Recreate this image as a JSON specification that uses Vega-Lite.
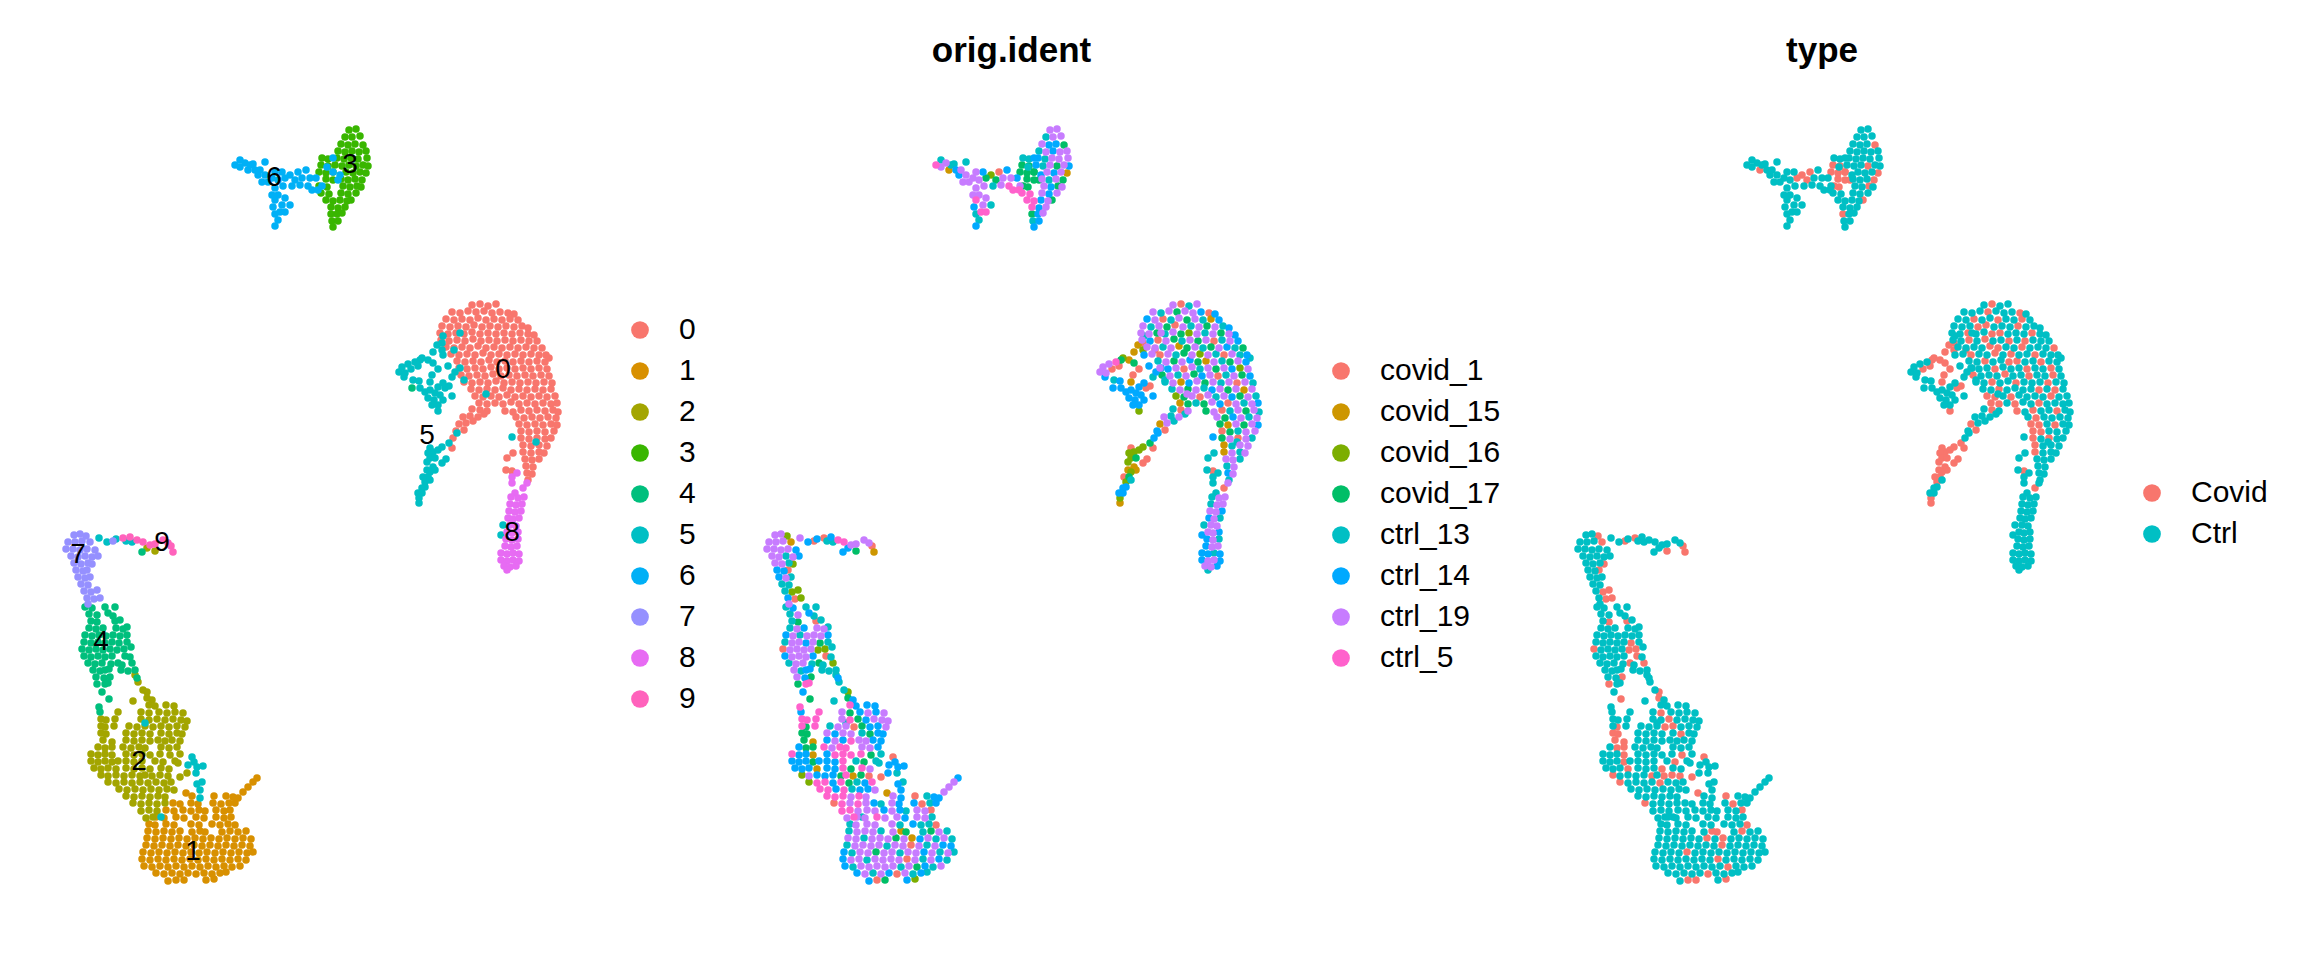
{"$schema":"https://vega.github.io/schema/vega-lite/v6.json","padding":{"top":34,"left":0,"right":0,"bottom":0},"bounds":"flush","spacing":0,"background":"white","resolve":{"scale":{"color":"independent"},"legend":{"color":"independent"}},"config":{"view":{"stroke":null},"font":"Liberation Sans","title":{"font":"Liberation Sans","fontSize":35,"fontWeight":"bold","color":"black","offset":11},"legend":{"labelFont":"Liberation Sans","labelFontSize":30,"labelColor":"black","symbolSize":314,"symbolType":"circle","symbolStrokeWidth":0,"symbolOpacity":1,"labelOffset":24,"rowPadding":11,"padding":0,"title":null}},"datasets":{"samples":[{"o":1,"sample":"covid_1","type":"Covid"},{"o":2,"sample":"covid_15","type":"Covid"},{"o":3,"sample":"covid_16","type":"Covid"},{"o":4,"sample":"covid_17","type":"Covid"},{"o":5,"sample":"ctrl_13","type":"Ctrl"},{"o":6,"sample":"ctrl_14","type":"Ctrl"},{"o":7,"sample":"ctrl_19","type":"Ctrl"},{"o":8,"sample":"ctrl_5","type":"Ctrl"}],"labels":[{"x":503,"y":370,"label":"0"},{"x":193,"y":852,"label":"1"},{"x":139,"y":762,"label":"2"},{"x":350,"y":165,"label":"3"},{"x":101,"y":642,"label":"4"},{"x":427,"y":436,"label":"5"},{"x":274,"y":178,"label":"6"},{"x":78,"y":555,"label":"7"},{"x":512,"y":533,"label":"8"},{"x":162,"y":543,"label":"9"}],"cells":[
{"x":472,"y":305,"c":0,"o":7},{"x":480,"y":304,"c":0,"o":1},{"x":488,"y":306,"c":0,"o":5},{"x":496,"y":304,"c":0,"o":7},
{"x":452,"y":312,"c":0,"o":7},{"x":460,"y":313,"c":0,"o":5},{"x":468,"y":311,"c":0,"o":7},{"x":476,"y":312,"c":0,"o":4},{"x":484,"y":311,"c":0,"o":7},{"x":492,"y":313,"c":0,"o":7},{"x":500,"y":312,"c":0,"o":6},{"x":508,"y":313,"c":0,"o":1},{"x":514,"y":314,"c":0,"o":6},
{"x":446,"y":319,"c":0,"o":6},{"x":454,"y":320,"c":0,"o":7},{"x":462,"y":319,"c":0,"o":1},{"x":470,"y":320,"c":0,"o":5},{"x":478,"y":318,"c":0,"o":7},{"x":486,"y":320,"c":0,"o":4},{"x":494,"y":319,"c":0,"o":7},{"x":502,"y":320,"c":0,"o":5},{"x":510,"y":319,"c":0,"o":2},{"x":518,"y":320,"c":0,"o":6},
{"x":442,"y":326,"c":0,"o":7},{"x":450,"y":327,"c":0,"o":5},{"x":458,"y":326,"c":0,"o":7},{"x":466,"y":327,"c":0,"o":4},{"x":474,"y":325,"c":0,"o":1},{"x":482,"y":327,"c":0,"o":7},{"x":490,"y":326,"c":0,"o":5},{"x":498,"y":327,"c":0,"o":7},{"x":506,"y":326,"c":0,"o":4},{"x":514,"y":327,"c":0,"o":7},{"x":522,"y":326,"c":0,"o":5},{"x":528,"y":328,"c":0,"o":6},
{"x":440,"y":333,"c":0,"o":7},{"x":448,"y":334,"c":0,"o":7},{"x":456,"y":333,"c":0,"o":4},{"x":464,"y":334,"c":0,"o":5},{"x":472,"y":332,"c":0,"o":7},{"x":480,"y":334,"c":0,"o":4},{"x":488,"y":333,"c":0,"o":3},{"x":496,"y":334,"c":0,"o":7},{"x":504,"y":333,"c":0,"o":5},{"x":512,"y":334,"c":0,"o":7},{"x":520,"y":333,"c":0,"o":4},{"x":528,"y":334,"c":0,"o":7},{"x":534,"y":335,"c":0,"o":6},
{"x":441,"y":340,"c":0,"o":7},{"x":449,"y":341,"c":0,"o":6},{"x":457,"y":340,"c":0,"o":1},{"x":465,"y":341,"c":0,"o":7},{"x":473,"y":339,"c":0,"o":4},{"x":481,"y":341,"c":0,"o":5},{"x":489,"y":340,"c":0,"o":7},{"x":497,"y":341,"c":0,"o":4},{"x":505,"y":340,"c":0,"o":7},{"x":513,"y":341,"c":0,"o":1},{"x":521,"y":340,"c":0,"o":5},{"x":529,"y":341,"c":0,"o":7},{"x":537,"y":341,"c":0,"o":6},
{"x":446,"y":347,"c":0,"o":7},{"x":454,"y":348,"c":0,"o":7},{"x":462,"y":347,"c":0,"o":5},{"x":470,"y":348,"c":0,"o":7},{"x":478,"y":346,"c":0,"o":2},{"x":486,"y":348,"c":0,"o":4},{"x":494,"y":347,"c":0,"o":7},{"x":502,"y":348,"c":0,"o":5},{"x":510,"y":347,"c":0,"o":4},{"x":518,"y":348,"c":0,"o":7},{"x":526,"y":347,"c":0,"o":6},{"x":534,"y":348,"c":0,"o":5},{"x":542,"y":348,"c":0,"o":4},
{"x":451,"y":354,"c":0,"o":7},{"x":459,"y":355,"c":0,"o":1},{"x":467,"y":354,"c":0,"o":7},{"x":475,"y":355,"c":0,"o":5},{"x":483,"y":353,"c":0,"o":4},{"x":491,"y":355,"c":0,"o":7},{"x":499,"y":354,"c":0,"o":3},{"x":507,"y":355,"c":0,"o":7},{"x":515,"y":354,"c":0,"o":5},{"x":523,"y":355,"c":0,"o":1},{"x":531,"y":354,"c":0,"o":7},{"x":539,"y":355,"c":0,"o":5},{"x":546,"y":355,"c":0,"o":6},
{"x":457,"y":361,"c":0,"o":5},{"x":465,"y":362,"c":0,"o":7},{"x":473,"y":361,"c":0,"o":4},{"x":481,"y":362,"c":0,"o":7},{"x":489,"y":360,"c":0,"o":6},{"x":497,"y":362,"c":0,"o":4},{"x":505,"y":361,"c":0,"o":2},{"x":513,"y":362,"c":0,"o":7},{"x":521,"y":361,"c":0,"o":5},{"x":529,"y":362,"c":0,"o":4},{"x":537,"y":361,"c":0,"o":7},{"x":545,"y":362,"c":0,"o":6},{"x":549,"y":358,"c":0,"o":5},
{"x":459,"y":368,"c":0,"o":7},{"x":467,"y":369,"c":0,"o":6},{"x":475,"y":368,"c":0,"o":7},{"x":483,"y":369,"c":0,"o":1},{"x":491,"y":367,"c":0,"o":7},{"x":499,"y":369,"c":0,"o":5},{"x":507,"y":368,"c":0,"o":7},{"x":515,"y":369,"c":0,"o":4},{"x":523,"y":368,"c":0,"o":7},{"x":531,"y":369,"c":0,"o":6},{"x":539,"y":368,"c":0,"o":3},{"x":547,"y":369,"c":0,"o":7},
{"x":461,"y":375,"c":0,"o":4},{"x":469,"y":376,"c":0,"o":7},{"x":477,"y":375,"c":0,"o":5},{"x":485,"y":376,"c":0,"o":7},{"x":493,"y":374,"c":0,"o":4},{"x":501,"y":376,"c":0,"o":6},{"x":509,"y":375,"c":0,"o":7},{"x":517,"y":376,"c":0,"o":1},{"x":525,"y":375,"c":0,"o":5},{"x":533,"y":376,"c":0,"o":7},{"x":541,"y":375,"c":0,"o":4},{"x":549,"y":376,"c":0,"o":6},
{"x":464,"y":382,"c":0,"o":5},{"x":472,"y":383,"c":0,"o":7},{"x":480,"y":382,"c":0,"o":2},{"x":488,"y":383,"c":0,"o":6},{"x":496,"y":381,"c":0,"o":7},{"x":504,"y":383,"c":0,"o":4},{"x":512,"y":382,"c":0,"o":7},{"x":520,"y":383,"c":0,"o":5},{"x":528,"y":382,"c":0,"o":7},{"x":536,"y":383,"c":0,"o":1},{"x":544,"y":382,"c":0,"o":7},{"x":552,"y":383,"c":0,"o":5},
{"x":471,"y":389,"c":0,"o":5},{"x":479,"y":390,"c":0,"o":7},{"x":487,"y":389,"c":0,"o":4},{"x":495,"y":390,"c":0,"o":7},{"x":503,"y":388,"c":0,"o":5},{"x":511,"y":390,"c":0,"o":6},{"x":519,"y":389,"c":0,"o":7},{"x":527,"y":390,"c":0,"o":4},{"x":535,"y":389,"c":0,"o":7},{"x":543,"y":390,"c":0,"o":2},{"x":551,"y":389,"c":0,"o":7},
{"x":475,"y":396,"c":0,"o":3},{"x":483,"y":397,"c":0,"o":4},{"x":491,"y":396,"c":0,"o":7},{"x":499,"y":397,"c":0,"o":1},{"x":507,"y":395,"c":0,"o":7},{"x":515,"y":397,"c":0,"o":5},{"x":523,"y":396,"c":0,"o":7},{"x":531,"y":397,"c":0,"o":6},{"x":539,"y":396,"c":0,"o":4},{"x":547,"y":397,"c":0,"o":7},{"x":555,"y":396,"c":0,"o":5},
{"x":479,"y":403,"c":0,"o":2},{"x":487,"y":404,"c":0,"o":4},{"x":495,"y":403,"c":0,"o":5},{"x":503,"y":404,"c":0,"o":4},{"x":511,"y":402,"c":0,"o":7},{"x":519,"y":404,"c":0,"o":6},{"x":527,"y":403,"c":0,"o":1},{"x":535,"y":404,"c":0,"o":7},{"x":543,"y":403,"c":0,"o":5},{"x":551,"y":404,"c":0,"o":7},{"x":557,"y":403,"c":0,"o":6},
{"x":472,"y":409,"c":0,"o":5},{"x":480,"y":410,"c":0,"o":1},{"x":487,"y":411,"c":0,"o":7},{"x":505,"y":411,"c":0,"o":4},{"x":513,"y":412,"c":0,"o":7},{"x":521,"y":410,"c":0,"o":1},{"x":529,"y":411,"c":0,"o":5},{"x":537,"y":410,"c":0,"o":7},{"x":545,"y":411,"c":0,"o":4},{"x":553,"y":410,"c":0,"o":7},{"x":558,"y":412,"c":0,"o":5},
{"x":463,"y":417,"c":0,"o":7},{"x":470,"y":416,"c":0,"o":5},{"x":478,"y":417,"c":0,"o":7},{"x":484,"y":414,"c":0,"o":5},{"x":516,"y":417,"c":0,"o":7},{"x":524,"y":418,"c":0,"o":4},{"x":532,"y":417,"c":0,"o":6},{"x":540,"y":418,"c":0,"o":7},{"x":548,"y":417,"c":0,"o":5},{"x":556,"y":418,"c":0,"o":7},
{"x":459,"y":424,"c":0,"o":2},{"x":466,"y":423,"c":0,"o":7},{"x":473,"y":421,"c":0,"o":5},{"x":519,"y":424,"c":0,"o":4},{"x":527,"y":425,"c":0,"o":2},{"x":535,"y":424,"c":0,"o":7},{"x":543,"y":425,"c":0,"o":4},{"x":551,"y":424,"c":0,"o":7},{"x":557,"y":425,"c":0,"o":6},
{"x":456,"y":431,"c":0,"o":6},{"x":464,"y":430,"c":0,"o":1},{"x":521,"y":431,"c":0,"o":1},{"x":529,"y":432,"c":0,"o":4},{"x":537,"y":431,"c":0,"o":5},{"x":545,"y":432,"c":0,"o":7},{"x":554,"y":431,"c":0,"o":7},
{"x":453,"y":438,"c":0,"o":6},{"x":521,"y":438,"c":0,"o":4},{"x":529,"y":439,"c":0,"o":7},{"x":537,"y":438,"c":0,"o":1},{"x":545,"y":439,"c":0,"o":7},{"x":551,"y":438,"c":0,"o":5},
{"x":452,"y":448,"c":0,"o":1},{"x":523,"y":445,"c":0,"o":2},{"x":531,"y":446,"c":0,"o":5},{"x":539,"y":445,"c":0,"o":7},{"x":547,"y":446,"c":0,"o":7},
{"x":523,"y":452,"c":0,"o":2},{"x":531,"y":453,"c":0,"o":7},{"x":539,"y":452,"c":0,"o":5},{"x":544,"y":453,"c":0,"o":7},
{"x":525,"y":459,"c":0,"o":7},{"x":532,"y":460,"c":0,"o":7},{"x":539,"y":459,"c":0,"o":5},{"x":526,"y":466,"c":0,"o":5},{"x":533,"y":467,"c":0,"o":7},{"x":527,"y":473,"c":0,"o":6},{"x":532,"y":474,"c":0,"o":7},{"x":528,"y":480,"c":0,"o":5},
{"x":507,"y":458,"c":0,"o":5},{"x":513,"y":453,"c":0,"o":5},{"x":506,"y":470,"c":0,"o":5},{"x":512,"y":471,"c":0,"o":1},
{"x":176,"y":880,"c":1,"o":1},{"x":168,"y":881,"c":1,"o":6},{"x":184,"y":880,"c":1,"o":4},{"x":206,"y":880,"c":1,"o":6},{"x":214,"y":879,"c":1,"o":3},
{"x":156,"y":873,"c":1,"o":6},{"x":164,"y":874,"c":1,"o":7},{"x":172,"y":873,"c":1,"o":5},{"x":180,"y":874,"c":1,"o":7},{"x":188,"y":873,"c":1,"o":6},{"x":196,"y":874,"c":1,"o":1},{"x":204,"y":873,"c":1,"o":7},{"x":212,"y":874,"c":1,"o":5},{"x":220,"y":873,"c":1,"o":6},{"x":226,"y":872,"c":1,"o":5},
{"x":144,"y":866,"c":1,"o":6},{"x":152,"y":867,"c":1,"o":5},{"x":160,"y":866,"c":1,"o":7},{"x":168,"y":867,"c":1,"o":7},{"x":176,"y":866,"c":1,"o":7},{"x":184,"y":867,"c":1,"o":7},{"x":192,"y":866,"c":1,"o":7},{"x":200,"y":867,"c":1,"o":5},{"x":208,"y":866,"c":1,"o":7},{"x":216,"y":867,"c":1,"o":4},{"x":224,"y":866,"c":1,"o":6},{"x":232,"y":867,"c":1,"o":5},{"x":240,"y":866,"c":1,"o":7},
{"x":142,"y":859,"c":1,"o":6},{"x":150,"y":860,"c":1,"o":7},{"x":158,"y":859,"c":1,"o":7},{"x":166,"y":860,"c":1,"o":5},{"x":174,"y":859,"c":1,"o":7},{"x":182,"y":860,"c":1,"o":7},{"x":190,"y":859,"c":1,"o":7},{"x":198,"y":860,"c":1,"o":7},{"x":206,"y":859,"c":1,"o":1},{"x":214,"y":860,"c":1,"o":7},{"x":222,"y":859,"c":1,"o":5},{"x":230,"y":860,"c":1,"o":7},{"x":238,"y":859,"c":1,"o":6},{"x":246,"y":860,"c":1,"o":5},
{"x":143,"y":852,"c":1,"o":6},{"x":151,"y":853,"c":1,"o":5},{"x":159,"y":852,"c":1,"o":7},{"x":167,"y":853,"c":1,"o":7},{"x":175,"y":852,"c":1,"o":4},{"x":183,"y":853,"c":1,"o":7},{"x":191,"y":852,"c":1,"o":7},{"x":199,"y":853,"c":1,"o":5},{"x":207,"y":852,"c":1,"o":7},{"x":215,"y":853,"c":1,"o":7},{"x":223,"y":852,"c":1,"o":6},{"x":231,"y":853,"c":1,"o":7},{"x":239,"y":852,"c":1,"o":5},{"x":247,"y":853,"c":1,"o":7},{"x":253,"y":852,"c":1,"o":5},
{"x":146,"y":845,"c":1,"o":5},{"x":154,"y":846,"c":1,"o":7},{"x":162,"y":845,"c":1,"o":7},{"x":170,"y":846,"c":1,"o":7},{"x":178,"y":845,"c":1,"o":7},{"x":186,"y":846,"c":1,"o":5},{"x":194,"y":845,"c":1,"o":7},{"x":202,"y":846,"c":1,"o":7},{"x":210,"y":845,"c":1,"o":1},{"x":218,"y":846,"c":1,"o":7},{"x":226,"y":845,"c":1,"o":5},{"x":234,"y":846,"c":1,"o":7},{"x":242,"y":845,"c":1,"o":6},{"x":250,"y":846,"c":1,"o":6},
{"x":147,"y":838,"c":1,"o":7},{"x":155,"y":839,"c":1,"o":7},{"x":163,"y":838,"c":1,"o":5},{"x":171,"y":839,"c":1,"o":7},{"x":179,"y":838,"c":1,"o":7},{"x":187,"y":839,"c":1,"o":7},{"x":195,"y":838,"c":1,"o":4},{"x":203,"y":839,"c":1,"o":7},{"x":211,"y":838,"c":1,"o":2},{"x":219,"y":839,"c":1,"o":6},{"x":227,"y":838,"c":1,"o":7},{"x":235,"y":839,"c":1,"o":5},{"x":243,"y":838,"c":1,"o":7},{"x":251,"y":839,"c":1,"o":5},
{"x":148,"y":831,"c":1,"o":5},{"x":156,"y":832,"c":1,"o":7},{"x":164,"y":831,"c":1,"o":7},{"x":172,"y":832,"c":1,"o":7},{"x":180,"y":831,"c":1,"o":5},{"x":192,"y":832,"c":1,"o":7},{"x":200,"y":831,"c":1,"o":2},{"x":205,"y":832,"c":1,"o":4},{"x":222,"y":832,"c":1,"o":5},{"x":230,"y":831,"c":1,"o":4},{"x":238,"y":832,"c":1,"o":7},{"x":246,"y":831,"c":1,"o":5},
{"x":149,"y":824,"c":1,"o":5},{"x":155,"y":825,"c":1,"o":7},{"x":166,"y":824,"c":1,"o":7},{"x":174,"y":825,"c":1,"o":7},{"x":191,"y":824,"c":1,"o":7},{"x":199,"y":825,"c":1,"o":5},{"x":212,"y":824,"c":1,"o":6},{"x":220,"y":825,"c":1,"o":5},{"x":228,"y":824,"c":1,"o":5},{"x":235,"y":825,"c":1,"o":1},
{"x":156,"y":817,"c":1,"o":7},{"x":164,"y":818,"c":1,"o":7},{"x":176,"y":817,"c":1,"o":8},{"x":184,"y":818,"c":1,"o":7},{"x":196,"y":817,"c":1,"o":7},{"x":204,"y":818,"c":1,"o":6},{"x":216,"y":817,"c":1,"o":7},{"x":224,"y":818,"c":1,"o":7},{"x":231,"y":817,"c":1,"o":5},
{"x":166,"y":810,"c":1,"o":7},{"x":174,"y":811,"c":1,"o":7},{"x":183,"y":810,"c":1,"o":6},{"x":191,"y":811,"c":1,"o":7},{"x":199,"y":810,"c":1,"o":6},{"x":205,"y":811,"c":1,"o":5},{"x":216,"y":810,"c":1,"o":7},{"x":224,"y":811,"c":1,"o":7},{"x":230,"y":810,"c":1,"o":1},
{"x":173,"y":803,"c":1,"o":6},{"x":180,"y":804,"c":1,"o":5},{"x":191,"y":803,"c":1,"o":7},{"x":198,"y":804,"c":1,"o":6},{"x":213,"y":803,"c":1,"o":6},{"x":221,"y":804,"c":1,"o":1},{"x":229,"y":803,"c":1,"o":5},{"x":235,"y":803,"c":1,"o":6},
{"x":192,"y":796,"c":1,"o":7},{"x":186,"y":793,"c":1,"o":2},{"x":214,"y":796,"c":1,"o":1},{"x":226,"y":796,"c":1,"o":5},{"x":233,"y":797,"c":1,"o":6},{"x":238,"y":798,"c":1,"o":6},{"x":243,"y":792,"c":1,"o":7},{"x":248,"y":787,"c":1,"o":7},{"x":253,"y":782,"c":1,"o":7},{"x":257,"y":778,"c":1,"o":6},
{"x":135,"y":675,"c":2,"o":5},{"x":138,"y":682,"c":2,"o":5},{"x":143,"y":690,"c":2,"o":5},{"x":147,"y":692,"c":2,"o":3},{"x":147,"y":698,"c":2,"o":4},{"x":152,"y":700,"c":2,"o":6},{"x":133,"y":701,"c":2,"o":5},{"x":118,"y":712,"c":2,"o":8},
{"x":149,"y":705,"c":2,"o":8},{"x":155,"y":706,"c":2,"o":6},{"x":166,"y":705,"c":2,"o":6},{"x":174,"y":706,"c":2,"o":6},
{"x":141,"y":712,"c":2,"o":7},{"x":149,"y":713,"c":2,"o":4},{"x":159,"y":712,"c":2,"o":6},{"x":167,"y":713,"c":2,"o":7},{"x":175,"y":712,"c":2,"o":6},{"x":183,"y":713,"c":2,"o":7},
{"x":101,"y":719,"c":2,"o":8},{"x":106,"y":720,"c":2,"o":8},{"x":115,"y":719,"c":2,"o":8},{"x":141,"y":719,"c":2,"o":7},{"x":149,"y":720,"c":2,"o":8},{"x":157,"y":719,"c":2,"o":4},{"x":165,"y":720,"c":2,"o":6},{"x":173,"y":719,"c":2,"o":7},{"x":181,"y":720,"c":2,"o":7},{"x":187,"y":721,"c":2,"o":7},
{"x":101,"y":726,"c":2,"o":8},{"x":105,"y":727,"c":2,"o":4},{"x":114,"y":726,"c":2,"o":8},{"x":129,"y":726,"c":2,"o":5},{"x":137,"y":727,"c":2,"o":7},{"x":145,"y":726,"c":2,"o":7},{"x":153,"y":727,"c":2,"o":1},{"x":161,"y":726,"c":2,"o":4},{"x":169,"y":727,"c":2,"o":6},{"x":177,"y":726,"c":2,"o":6},{"x":185,"y":727,"c":2,"o":7},
{"x":101,"y":733,"c":2,"o":4},{"x":106,"y":734,"c":2,"o":4},{"x":126,"y":733,"c":2,"o":7},{"x":134,"y":734,"c":2,"o":6},{"x":142,"y":733,"c":2,"o":7},{"x":150,"y":734,"c":2,"o":7},{"x":161,"y":733,"c":2,"o":5},{"x":169,"y":734,"c":2,"o":4},{"x":177,"y":733,"c":2,"o":6},{"x":182,"y":734,"c":2,"o":6},
{"x":103,"y":740,"c":2,"o":4},{"x":112,"y":742,"c":2,"o":2},{"x":126,"y":740,"c":2,"o":6},{"x":134,"y":741,"c":2,"o":7},{"x":142,"y":740,"c":2,"o":6},{"x":150,"y":741,"c":2,"o":8},{"x":158,"y":740,"c":2,"o":7},{"x":165,"y":741,"c":2,"o":7},{"x":172,"y":740,"c":2,"o":6},{"x":180,"y":741,"c":2,"o":6},
{"x":98,"y":747,"c":2,"o":6},{"x":105,"y":748,"c":2,"o":4},{"x":112,"y":747,"c":2,"o":4},{"x":123,"y":747,"c":2,"o":8},{"x":131,"y":748,"c":2,"o":7},{"x":139,"y":747,"c":2,"o":8},{"x":145,"y":748,"c":2,"o":8},{"x":161,"y":747,"c":2,"o":7},{"x":169,"y":748,"c":2,"o":7},{"x":177,"y":747,"c":2,"o":6},
{"x":91,"y":754,"c":2,"o":8},{"x":98,"y":755,"c":2,"o":6},{"x":105,"y":754,"c":2,"o":6},{"x":112,"y":755,"c":2,"o":2},{"x":126,"y":754,"c":2,"o":6},{"x":134,"y":755,"c":2,"o":8},{"x":142,"y":754,"c":2,"o":8},{"x":150,"y":755,"c":2,"o":8},{"x":160,"y":754,"c":2,"o":8},{"x":170,"y":755,"c":2,"o":4},{"x":180,"y":754,"c":2,"o":5},
{"x":91,"y":761,"c":2,"o":6},{"x":98,"y":762,"c":2,"o":6},{"x":105,"y":761,"c":2,"o":6},{"x":112,"y":762,"c":2,"o":4},{"x":118,"y":761,"c":2,"o":6},{"x":126,"y":761,"c":2,"o":6},{"x":134,"y":762,"c":2,"o":6},{"x":142,"y":761,"c":2,"o":8},{"x":155,"y":761,"c":2,"o":5},{"x":163,"y":762,"c":2,"o":4},{"x":175,"y":761,"c":2,"o":5},
{"x":94,"y":768,"c":2,"o":6},{"x":101,"y":769,"c":2,"o":6},{"x":108,"y":768,"c":2,"o":6},{"x":116,"y":769,"c":2,"o":2},{"x":126,"y":768,"c":2,"o":6},{"x":134,"y":769,"c":2,"o":6},{"x":142,"y":768,"c":2,"o":8},{"x":150,"y":769,"c":2,"o":4},{"x":161,"y":768,"c":2,"o":8},{"x":169,"y":769,"c":2,"o":7},
{"x":101,"y":775,"c":2,"o":3},{"x":108,"y":776,"c":2,"o":7},{"x":116,"y":775,"c":2,"o":6},{"x":124,"y":776,"c":2,"o":6},{"x":132,"y":775,"c":2,"o":6},{"x":140,"y":776,"c":2,"o":4},{"x":145,"y":775,"c":2,"o":8},{"x":152,"y":776,"c":2,"o":2},{"x":160,"y":775,"c":2,"o":4},{"x":168,"y":776,"c":2,"o":1},
{"x":108,"y":782,"c":2,"o":3},{"x":116,"y":783,"c":2,"o":8},{"x":124,"y":782,"c":2,"o":8},{"x":132,"y":783,"c":2,"o":6},{"x":140,"y":782,"c":2,"o":8},{"x":148,"y":783,"c":2,"o":4},{"x":156,"y":782,"c":2,"o":5},{"x":164,"y":783,"c":2,"o":6},{"x":171,"y":782,"c":2,"o":8},
{"x":119,"y":789,"c":2,"o":8},{"x":127,"y":790,"c":2,"o":8},{"x":135,"y":789,"c":2,"o":6},{"x":143,"y":790,"c":2,"o":8},{"x":151,"y":789,"c":2,"o":5},{"x":159,"y":790,"c":2,"o":6},{"x":167,"y":789,"c":2,"o":6},{"x":174,"y":790,"c":2,"o":7},
{"x":126,"y":796,"c":2,"o":8},{"x":134,"y":797,"c":2,"o":8},{"x":142,"y":796,"c":2,"o":8},{"x":150,"y":797,"c":2,"o":7},{"x":158,"y":796,"c":2,"o":8},{"x":165,"y":797,"c":2,"o":7},
{"x":133,"y":803,"c":2,"o":1},{"x":141,"y":804,"c":2,"o":8},{"x":149,"y":803,"c":2,"o":7},{"x":157,"y":804,"c":2,"o":8},{"x":165,"y":803,"c":2,"o":7},{"x":141,"y":811,"c":2,"o":8},{"x":149,"y":810,"c":2,"o":8},{"x":157,"y":811,"c":2,"o":7},{"x":146,"y":818,"c":2,"o":7},{"x":153,"y":817,"c":2,"o":8},
{"x":180,"y":777,"c":2,"o":1},{"x":178,"y":763,"c":2,"o":5},{"x":187,"y":773,"c":2,"o":6},
{"x":192,"y":757,"c":5,"o":1},{"x":188,"y":765,"c":5,"o":6},{"x":194,"y":762,"c":5,"o":6},{"x":197,"y":767,"c":5,"o":6},{"x":203,"y":766,"c":5,"o":6},{"x":196,"y":773,"c":5,"o":5},{"x":197,"y":784,"c":5,"o":6},{"x":202,"y":782,"c":5,"o":5},{"x":200,"y":790,"c":5,"o":6},{"x":200,"y":798,"c":5,"o":6},{"x":161,"y":817,"c":5,"o":5},{"x":145,"y":723,"c":5,"o":5},
{"x":85,"y":607,"c":4,"o":5},{"x":92,"y":608,"c":4,"o":6},{"x":105,"y":607,"c":4,"o":5},{"x":115,"y":607,"c":4,"o":5},{"x":89,"y":614,"c":4,"o":5},{"x":97,"y":615,"c":4,"o":7},{"x":108,"y":613,"c":4,"o":6},{"x":113,"y":616,"c":4,"o":5},{"x":91,"y":621,"c":4,"o":5},{"x":97,"y":622,"c":4,"o":4},{"x":115,"y":621,"c":4,"o":1},{"x":120,"y":620,"c":4,"o":5},
{"x":89,"y":628,"c":4,"o":5},{"x":96,"y":629,"c":4,"o":7},{"x":103,"y":628,"c":4,"o":6},{"x":116,"y":628,"c":4,"o":7},{"x":123,"y":629,"c":4,"o":7},{"x":127,"y":627,"c":4,"o":5},
{"x":85,"y":635,"c":4,"o":6},{"x":92,"y":636,"c":4,"o":7},{"x":99,"y":635,"c":4,"o":5},{"x":106,"y":636,"c":4,"o":7},{"x":113,"y":635,"c":4,"o":7},{"x":120,"y":636,"c":4,"o":7},{"x":127,"y":635,"c":4,"o":6},
{"x":84,"y":642,"c":4,"o":5},{"x":91,"y":643,"c":4,"o":7},{"x":98,"y":642,"c":4,"o":7},{"x":105,"y":643,"c":4,"o":6},{"x":112,"y":642,"c":4,"o":7},{"x":119,"y":643,"c":4,"o":4},{"x":127,"y":642,"c":4,"o":5},
{"x":82,"y":649,"c":4,"o":1},{"x":89,"y":650,"c":4,"o":7},{"x":96,"y":649,"c":4,"o":7},{"x":103,"y":650,"c":4,"o":7},{"x":110,"y":649,"c":4,"o":7},{"x":117,"y":650,"c":4,"o":3},{"x":124,"y":649,"c":4,"o":3},{"x":131,"y":647,"c":4,"o":5},
{"x":84,"y":656,"c":4,"o":6},{"x":91,"y":657,"c":4,"o":7},{"x":98,"y":656,"c":4,"o":7},{"x":105,"y":657,"c":4,"o":7},{"x":112,"y":656,"c":4,"o":6},{"x":125,"y":656,"c":4,"o":1},{"x":130,"y":657,"c":4,"o":5},
{"x":88,"y":663,"c":4,"o":5},{"x":95,"y":664,"c":4,"o":7},{"x":102,"y":663,"c":4,"o":7},{"x":111,"y":664,"c":4,"o":5},{"x":118,"y":663,"c":4,"o":4},{"x":122,"y":665,"c":4,"o":5},{"x":132,"y":663,"c":4,"o":3},
{"x":93,"y":670,"c":4,"o":7},{"x":100,"y":671,"c":4,"o":5},{"x":105,"y":670,"c":4,"o":6},{"x":109,"y":669,"c":4,"o":6},{"x":121,"y":670,"c":4,"o":5},{"x":128,"y":671,"c":4,"o":5},{"x":135,"y":670,"c":4,"o":5},
{"x":96,"y":677,"c":4,"o":7},{"x":104,"y":678,"c":4,"o":6},{"x":110,"y":677,"c":4,"o":4},{"x":97,"y":684,"c":4,"o":4},{"x":105,"y":684,"c":4,"o":8},{"x":108,"y":683,"c":4,"o":8},{"x":137,"y":678,"c":4,"o":6},{"x":102,"y":692,"c":4,"o":6},{"x":109,"y":699,"c":4,"o":4},{"x":99,"y":707,"c":4,"o":8},{"x":100,"y":712,"c":4,"o":6},
{"x":74,"y":535,"c":7,"o":7},{"x":80,"y":534,"c":7,"o":7},{"x":86,"y":536,"c":7,"o":3},{"x":68,"y":542,"c":7,"o":7},{"x":75,"y":542,"c":7,"o":7},{"x":82,"y":541,"c":7,"o":7},{"x":90,"y":542,"c":7,"o":2},
{"x":66,"y":549,"c":7,"o":7},{"x":73,"y":549,"c":7,"o":7},{"x":80,"y":550,"c":7,"o":7},{"x":87,"y":549,"c":7,"o":7},{"x":95,"y":550,"c":7,"o":6},{"x":71,"y":556,"c":7,"o":7},{"x":78,"y":557,"c":7,"o":7},{"x":85,"y":556,"c":7,"o":5},{"x":92,"y":557,"c":7,"o":7},{"x":98,"y":556,"c":7,"o":6},
{"x":74,"y":563,"c":7,"o":7},{"x":81,"y":564,"c":7,"o":7},{"x":88,"y":563,"c":7,"o":5},{"x":92,"y":564,"c":7,"o":3},{"x":76,"y":570,"c":7,"o":6},{"x":83,"y":571,"c":7,"o":6},{"x":87,"y":570,"c":7,"o":1},{"x":78,"y":577,"c":7,"o":6},{"x":85,"y":578,"c":7,"o":7},{"x":90,"y":577,"c":7,"o":5},
{"x":81,"y":584,"c":7,"o":5},{"x":88,"y":585,"c":7,"o":5},{"x":84,"y":591,"c":7,"o":5},{"x":91,"y":592,"c":7,"o":3},{"x":97,"y":590,"c":7,"o":3},{"x":87,"y":598,"c":7,"o":6},{"x":94,"y":599,"c":7,"o":1},{"x":100,"y":598,"c":7,"o":3},{"x":88,"y":604,"c":7,"o":7},
{"x":99,"y":538,"c":5,"o":7},{"x":113,"y":541,"c":7,"o":1},{"x":107,"y":542,"c":5,"o":6},{"x":116,"y":539,"c":5,"o":6},{"x":126,"y":541,"c":5,"o":5},{"x":132,"y":542,"c":5,"o":5},
{"x":123,"y":538,"c":9,"o":1},{"x":130,"y":537,"c":9,"o":6},{"x":137,"y":540,"c":9,"o":8},{"x":143,"y":542,"c":9,"o":8},{"x":150,"y":545,"c":9,"o":7},{"x":155,"y":544,"c":9,"o":7},{"x":163,"y":540,"c":9,"o":7},{"x":168,"y":543,"c":9,"o":7},{"x":171,"y":546,"c":9,"o":1},{"x":173,"y":552,"c":9,"o":2},
{"x":147,"y":548,"c":2,"o":6},{"x":155,"y":551,"c":2,"o":4},{"x":142,"y":552,"c":4,"o":6},
{"x":349,"y":130,"c":3,"o":7},{"x":356,"y":129,"c":3,"o":7},{"x":345,"y":137,"c":3,"o":5},{"x":352,"y":137,"c":3,"o":7},{"x":360,"y":136,"c":3,"o":7},{"x":341,"y":144,"c":3,"o":7},{"x":348,"y":145,"c":3,"o":6},{"x":355,"y":144,"c":3,"o":6},{"x":363,"y":145,"c":3,"o":4},
{"x":338,"y":151,"c":3,"o":5},{"x":345,"y":152,"c":3,"o":7},{"x":352,"y":151,"c":3,"o":6},{"x":359,"y":152,"c":3,"o":7},{"x":366,"y":151,"c":3,"o":7},
{"x":322,"y":158,"c":3,"o":5},{"x":328,"y":159,"c":3,"o":5},{"x":337,"y":158,"c":3,"o":6},{"x":344,"y":159,"c":3,"o":5},{"x":351,"y":158,"c":3,"o":7},{"x":358,"y":159,"c":3,"o":7},{"x":367,"y":158,"c":3,"o":7},
{"x":321,"y":165,"c":3,"o":4},{"x":328,"y":166,"c":3,"o":4},{"x":335,"y":165,"c":3,"o":6},{"x":342,"y":166,"c":3,"o":5},{"x":349,"y":165,"c":3,"o":7},{"x":356,"y":166,"c":3,"o":4},{"x":363,"y":165,"c":3,"o":7},{"x":368,"y":166,"c":3,"o":6},
{"x":319,"y":172,"c":3,"o":4},{"x":326,"y":173,"c":3,"o":4},{"x":333,"y":172,"c":3,"o":4},{"x":346,"y":172,"c":3,"o":7},{"x":353,"y":173,"c":3,"o":6},{"x":360,"y":172,"c":3,"o":7},{"x":366,"y":173,"c":3,"o":2},
{"x":326,"y":179,"c":3,"o":4},{"x":333,"y":180,"c":3,"o":4},{"x":341,"y":179,"c":3,"o":7},{"x":348,"y":180,"c":3,"o":5},{"x":355,"y":179,"c":3,"o":7},{"x":362,"y":180,"c":3,"o":4},
{"x":319,"y":186,"c":3,"o":7},{"x":327,"y":187,"c":3,"o":4},{"x":343,"y":186,"c":3,"o":7},{"x":350,"y":187,"c":3,"o":6},{"x":357,"y":186,"c":3,"o":4},{"x":361,"y":187,"c":3,"o":7},
{"x":321,"y":193,"c":3,"o":8},{"x":329,"y":194,"c":3,"o":8},{"x":341,"y":193,"c":3,"o":7},{"x":348,"y":194,"c":3,"o":6},{"x":356,"y":193,"c":3,"o":7},
{"x":326,"y":200,"c":3,"o":8},{"x":333,"y":201,"c":3,"o":8},{"x":340,"y":200,"c":3,"o":6},{"x":347,"y":201,"c":3,"o":7},{"x":351,"y":200,"c":3,"o":4},
{"x":331,"y":207,"c":3,"o":8},{"x":338,"y":208,"c":3,"o":6},{"x":345,"y":207,"c":3,"o":7},{"x":331,"y":214,"c":3,"o":4},{"x":337,"y":214,"c":3,"o":6},{"x":342,"y":213,"c":3,"o":7},{"x":332,"y":221,"c":3,"o":5},{"x":338,"y":221,"c":3,"o":6},{"x":333,"y":227,"c":3,"o":6},
{"x":235,"y":165,"c":6,"o":8},{"x":240,"y":160,"c":6,"o":5},{"x":245,"y":163,"c":6,"o":7},{"x":240,"y":167,"c":6,"o":7},{"x":250,"y":165,"c":6,"o":5},{"x":248,"y":170,"c":6,"o":2},{"x":255,"y":170,"c":6,"o":6},{"x":253,"y":164,"c":6,"o":5},{"x":260,"y":170,"c":6,"o":7},{"x":258,"y":175,"c":6,"o":6},{"x":265,"y":175,"c":6,"o":7},{"x":265,"y":162,"c":6,"o":5},{"x":262,"y":182,"c":6,"o":7},{"x":268,"y":182,"c":6,"o":7},{"x":272,"y":178,"c":6,"o":7},{"x":275,"y":172,"c":6,"o":7},{"x":278,"y":180,"c":6,"o":7},{"x":275,"y":188,"c":6,"o":7},{"x":282,"y":172,"c":6,"o":6},{"x":285,"y":178,"c":6,"o":4},{"x":283,"y":186,"c":6,"o":7},{"x":290,"y":175,"c":6,"o":3},{"x":295,"y":180,"c":6,"o":4},{"x":292,"y":186,"c":6,"o":5},{"x":298,"y":172,"c":6,"o":1},{"x":302,"y":178,"c":6,"o":7},{"x":300,"y":185,"c":6,"o":7},{"x":306,"y":170,"c":6,"o":6},{"x":310,"y":178,"c":6,"o":7},{"x":308,"y":186,"c":6,"o":8},{"x":316,"y":178,"c":6,"o":6},{"x":318,"y":190,"c":6,"o":8},{"x":312,"y":190,"c":6,"o":8},{"x":322,"y":186,"c":6,"o":4},{"x":272,"y":195,"c":6,"o":7},{"x":278,"y":195,"c":6,"o":7},{"x":285,"y":198,"c":6,"o":7},{"x":275,"y":200,"c":6,"o":8},{"x":282,"y":205,"c":6,"o":7},{"x":290,"y":205,"c":6,"o":5},{"x":273,"y":207,"c":6,"o":6},{"x":280,"y":212,"c":6,"o":8},{"x":285,"y":212,"c":6,"o":8},{"x":275,"y":214,"c":6,"o":5},{"x":278,"y":220,"c":6,"o":5},{"x":275,"y":226,"c":6,"o":6},{"x":327,"y":167,"c":6,"o":5},{"x":333,"y":172,"c":6,"o":4},{"x":333,"y":158,"c":6,"o":6},{"x":340,"y":175,"c":6,"o":6},{"x":338,"y":180,"c":6,"o":4},
{"x":399,"y":372,"c":5,"o":7},{"x":402,"y":367,"c":5,"o":7},{"x":405,"y":373,"c":5,"o":7},{"x":408,"y":364,"c":5,"o":7},{"x":411,"y":369,"c":5,"o":1},{"x":415,"y":362,"c":5,"o":8},{"x":420,"y":360,"c":5,"o":4},{"x":404,"y":377,"c":5,"o":6},{"x":418,"y":366,"c":5,"o":1},{"x":422,"y":358,"c":5,"o":3},{"x":442,"y":343,"c":5,"o":1},{"x":437,"y":345,"c":5,"o":2},{"x":433,"y":352,"c":5,"o":2},{"x":442,"y":350,"c":5,"o":3},
{"x":420,"y":388,"c":5,"o":6},{"x":425,"y":392,"c":5,"o":6},{"x":430,"y":390,"c":5,"o":6},{"x":435,"y":393,"c":5,"o":6},{"x":428,"y":398,"c":5,"o":6},{"x":434,"y":400,"c":5,"o":6},{"x":440,"y":395,"c":5,"o":6},{"x":443,"y":400,"c":5,"o":6},{"x":438,"y":405,"c":5,"o":6},{"x":432,"y":405,"c":5,"o":6},{"x":438,"y":411,"c":5,"o":3},{"x":445,"y":388,"c":5,"o":1},{"x":452,"y":396,"c":5,"o":6},
{"x":413,"y":380,"c":5,"o":5},{"x":419,"y":381,"c":5,"o":6},{"x":432,"y":375,"c":5,"o":1},{"x":430,"y":382,"c":5,"o":2},{"x":438,"y":369,"c":5,"o":1},{"x":448,"y":366,"c":5,"o":6},{"x":428,"y":360,"c":5,"o":2},{"x":433,"y":363,"c":5,"o":4},{"x":443,"y":355,"c":5,"o":6},{"x":454,"y":350,"c":5,"o":1},{"x":460,"y":333,"c":5,"o":7},{"x":443,"y":336,"c":5,"o":5},{"x":460,"y":368,"c":5,"o":6},{"x":464,"y":380,"c":5,"o":5},{"x":455,"y":372,"c":5,"o":6},{"x":449,"y":386,"c":5,"o":1},{"x":452,"y":377,"c":5,"o":5},{"x":438,"y":387,"c":5,"o":6},{"x":443,"y":383,"c":5,"o":6},{"x":412,"y":388,"c":4,"o":6},{"x":486,"y":394,"c":5,"o":7},
{"x":430,"y":448,"c":5,"o":1},{"x":433,"y":452,"c":5,"o":3},{"x":428,"y":453,"c":5,"o":3},{"x":438,"y":450,"c":5,"o":3},{"x":430,"y":458,"c":5,"o":3},{"x":435,"y":458,"c":5,"o":4},{"x":427,"y":462,"c":5,"o":3},{"x":442,"y":463,"c":5,"o":1},{"x":446,"y":459,"c":5,"o":1},{"x":433,"y":467,"c":5,"o":2},{"x":427,"y":470,"c":5,"o":2},{"x":430,"y":472,"c":5,"o":3},{"x":435,"y":470,"c":5,"o":2},{"x":423,"y":477,"c":5,"o":1},{"x":428,"y":477,"c":5,"o":4},{"x":425,"y":482,"c":5,"o":3},{"x":430,"y":480,"c":5,"o":5},{"x":422,"y":488,"c":5,"o":6},{"x":425,"y":487,"c":5,"o":6},{"x":418,"y":493,"c":5,"o":6},{"x":422,"y":493,"c":5,"o":6},{"x":419,"y":498,"c":5,"o":3},{"x":419,"y":503,"c":5,"o":2},{"x":442,"y":447,"c":5,"o":3},{"x":449,"y":443,"c":5,"o":4},{"x":457,"y":433,"c":5,"o":6},{"x":512,"y":437,"c":5,"o":6},{"x":536,"y":442,"c":5,"o":5},
{"x":512,"y":477,"c":8,"o":5},{"x":517,"y":473,"c":8,"o":5},{"x":527,"y":483,"c":8,"o":7},{"x":523,"y":488,"c":8,"o":1},{"x":515,"y":493,"c":8,"o":5},{"x":512,"y":483,"c":8,"o":5},
{"x":511,"y":497,"c":8,"o":5},{"x":518,"y":498,"c":8,"o":7},{"x":524,"y":497,"c":8,"o":7},{"x":510,"y":504,"c":8,"o":5},{"x":516,"y":505,"c":8,"o":7},{"x":522,"y":504,"c":8,"o":7},{"x":509,"y":511,"c":8,"o":7},{"x":515,"y":512,"c":8,"o":7},{"x":521,"y":511,"c":8,"o":6},{"x":508,"y":518,"c":8,"o":6},{"x":513,"y":519,"c":8,"o":7},{"x":519,"y":518,"c":8,"o":5},
{"x":510,"y":525,"c":8,"o":7},{"x":516,"y":526,"c":8,"o":7},{"x":507,"y":532,"c":8,"o":7},{"x":512,"y":533,"c":8,"o":7},{"x":518,"y":532,"c":8,"o":6},{"x":506,"y":539,"c":8,"o":6},{"x":512,"y":540,"c":8,"o":7},{"x":518,"y":539,"c":8,"o":5},{"x":505,"y":546,"c":8,"o":6},{"x":511,"y":547,"c":8,"o":7},{"x":517,"y":546,"c":8,"o":7},
{"x":501,"y":553,"c":8,"o":6},{"x":507,"y":554,"c":8,"o":6},{"x":513,"y":553,"c":8,"o":5},{"x":519,"y":554,"c":8,"o":6},{"x":501,"y":560,"c":8,"o":6},{"x":507,"y":561,"c":8,"o":7},{"x":513,"y":560,"c":8,"o":7},{"x":519,"y":561,"c":8,"o":6},{"x":504,"y":566,"c":8,"o":7},{"x":510,"y":567,"c":8,"o":7},{"x":516,"y":566,"c":8,"o":6},{"x":507,"y":570,"c":8,"o":5},{"x":501,"y":535,"c":5,"o":6},{"x":503,"y":525,"c":5,"o":5}
]},"data":{"name":"cells"},"transform":[{"lookup":"o","from":{"data":{"name":"samples"},"key":"o","fields":["sample","type"]}}],"hconcat":[{"width":701,"height":880,"layer":[{"mark":{"type":"circle","size":56,"opacity":1},"encoding":{"x":{"field":"x","type":"quantitative","scale":{"domain":[0,701]},"axis":null},"y":{"field":"y","type":"quantitative","scale":{"domain":[960,80]},"axis":null},"order":{"field":"c"},"color":{"field":"c","type":"nominal","scale":{"domain":[0,1,2,3,4,5,6,7,8,9],"range":["#F8766D","#D89000","#A3A500","#39B600","#00BF7D","#00BFC4","#00B0F6","#9590FF","#E76BF3","#FF62BC"]},"legend":{"orient":"none","legendX":625,"legendY":235}}}},{"data":{"name":"labels"},"mark":{"type":"text","fontSize":28,"color":"black","align":"center","baseline":"middle","font":"Liberation Sans"},"encoding":{"x":{"field":"x","type":"quantitative","scale":{"domain":[0,701]},"axis":null},"y":{"field":"y","type":"quantitative","scale":{"domain":[960,80]},"axis":null},"text":{"field":"label","type":"nominal"}}}]},{"title":{"text":"orig.ident","dx":-95},"width":811,"height":880,"mark":{"type":"circle","size":56,"opacity":1},"encoding":{"x":{"field":"x","type":"quantitative","scale":{"domain":[0,811]},"axis":null},"y":{"field":"y","type":"quantitative","scale":{"domain":[960,80]},"axis":null},"order":{"field":"o"},"color":{"field":"sample","type":"nominal","scale":{"domain":["covid_1","covid_15","covid_16","covid_17","ctrl_13","ctrl_14","ctrl_19","ctrl_5"],"range":["#F8766D","#CD9600","#7CAE00","#00BE67","#00BFC4","#00A9FF","#C77CFF","#FF61CC"]},"legend":{"orient":"none","legendX":625,"legendY":276}}}},{"title":{"text":"type","dx":-86},"width":792,"height":880,"mark":{"type":"circle","size":56,"opacity":1},"encoding":{"x":{"field":"x","type":"quantitative","scale":{"domain":[0,792]},"axis":null},"y":{"field":"y","type":"quantitative","scale":{"domain":[960,80]},"axis":null},"order":{"field":"o"},"color":{"field":"type","type":"nominal","scale":{"domain":["Covid","Ctrl"],"range":["#F8766D","#00BFC4"]},"legend":{"orient":"none","legendX":625,"legendY":398}}}}]}
